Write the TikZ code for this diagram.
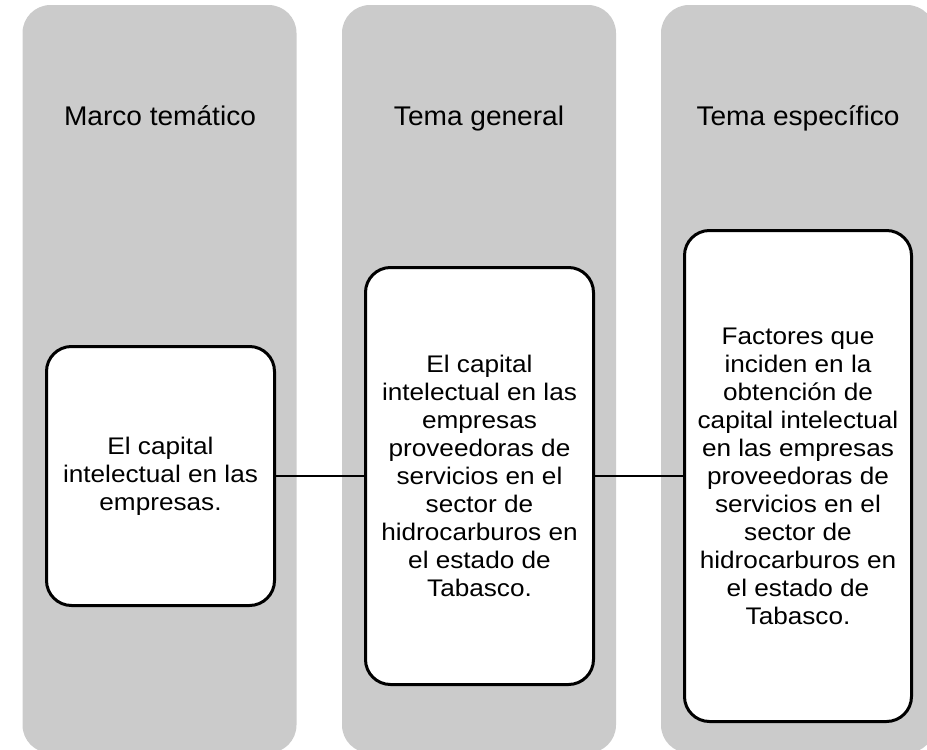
\documentclass[tikz,border=0pt]{standalone}
\usepackage{fontspec}
\setmainfont[FakeStretch=1.09]{Liberation Sans}
\newfontfamily\headfont[FakeStretch=1.04]{Liberation Sans}
\definecolor{colgray}{RGB}{203,203,203}
\begin{document}
\begin{tikzpicture}[x=1pt,y=-1pt,
  column/.style={fill=colgray, draw=none, rounded corners=28pt, minimum width=274pt, minimum height=748pt, inner sep=0pt, outer sep=0pt},
  header/.style={anchor=base, font=\headfont\fontsize{27}{30}\selectfont, inner sep=0pt},
  card/.style={draw=black, fill=white, line width=3pt, rounded corners=25pt, align=center, inner sep=0pt, outer sep=0pt, font=\fontsize{24}{28}\selectfont},
  link/.style={draw=black, line width=2pt}]
\useasboundingbox (0,0) rectangle (927,750);
\begin{scope}
\clip (0,0) rectangle (927,750);
\node[column] (c1) at (159.5,379) {};
\node[column] (c2) at (479,379) {};
\node[column] (c3) at (798,379) {};
\end{scope}
\node[header] (h1) at (160,125) {Marco temático};
\node[header] (h2) at (479,125) {Tema general};
\node[header] (h3) at (798,125) {Tema específico};
\node[card, minimum width=228pt, minimum height=259pt] (b1) at (160.5,476) {El capital\\intelectual en las\\empresas.};
\node[card, minimum width=228pt, minimum height=417pt] (b2) at (479.5,476) {El capital\\intelectual en las\\empresas\\proveedoras de\\servicios en el\\sector de\\hidrocarburos en\\el estado de\\Tabasco.};
\node[card, minimum width=227pt, minimum height=491pt] (b3) at (798,476) {Factores que\\inciden en la\\obtención de\\capital intelectual\\en las empresas\\proveedoras de\\servicios en el\\sector de\\hidrocarburos en\\el estado de\\Tabasco.};
\draw[link] (b1.east) -- (b2.west);
\draw[link] (b2.east) -- (b3.west);
\end{tikzpicture}
\end{document}
